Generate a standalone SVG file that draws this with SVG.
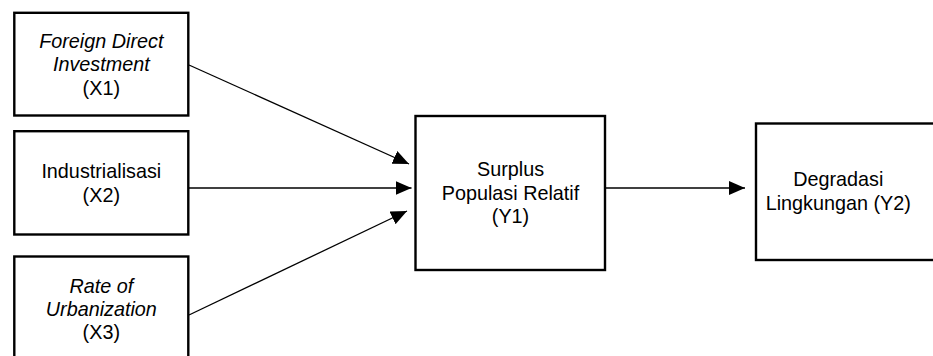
<svg xmlns="http://www.w3.org/2000/svg" width="933" height="356" viewBox="0 0 933 356">
<style>
.box{fill:#fff;stroke:#000;stroke-width:2.4}
.t{font-family:"Liberation Sans",Arial,sans-serif;font-size:19.8px;fill:#000;text-anchor:middle}
.i{font-style:italic}
.c{stroke:#000;stroke-width:1.3;fill:none}
</style>
<defs>
<marker id="ah" markerUnits="userSpaceOnUse" markerWidth="18" markerHeight="16" refX="16" refY="7" orient="auto" viewBox="0 0 18 16">
<path d="M0,0 L16,7 L0,14 Z" fill="#000"/>
</marker>
</defs>
<rect width="933" height="356" fill="#fff"/>
<g id="connectors">
<line class="c" x1="189" y1="65" x2="409" y2="164" marker-end="url(#ah)"/>
<line class="c" x1="189" y1="188" x2="411.5" y2="188" marker-end="url(#ah)"/>
<line class="c" x1="189" y1="315" x2="407" y2="211" marker-end="url(#ah)"/>
<line class="c" x1="605" y1="188" x2="745" y2="188" marker-end="url(#ah)"/>
</g>
<g id="x1">
<rect class="box" x="14.3" y="12.8" width="174" height="102.7"/>
<text class="t i" x="101.3" y="48">Foreign Direct</text>
<text class="t i" x="101.3" y="71">Investment</text>
<text class="t" x="101.3" y="94.5">(X1)</text>
</g>
<g id="x2">
<rect class="box" x="14.3" y="131.2" width="174" height="103.3"/>
<text class="t" x="101.3" y="178">Industrialisasi</text>
<text class="t" x="101.3" y="201.5">(X2)</text>
</g>
<g id="x3">
<rect class="box" x="14.3" y="256.5" width="174" height="110"/>
<text class="t i" x="101.3" y="292.5">Rate of</text>
<text class="t i" x="101.3" y="315.5">Urbanization</text>
<text class="t" x="101.3" y="338.5">(X3)</text>
</g>
<g id="y1">
<rect class="box" x="415.5" y="116" width="189.5" height="154"/>
<text class="t" x="510.5" y="176">Surplus</text>
<text class="t" x="510.5" y="199.5">Populasi Relatif</text>
<text class="t" x="510.5" y="223">(Y1)</text>
</g>
<g id="y2">
<rect class="box" x="756" y="123.5" width="190" height="136.5"/>
<text class="t" x="838.3" y="186">Degradasi</text>
<text class="t" x="838.3" y="209.5">Lingkungan (Y2)</text>
</g>
</svg>
